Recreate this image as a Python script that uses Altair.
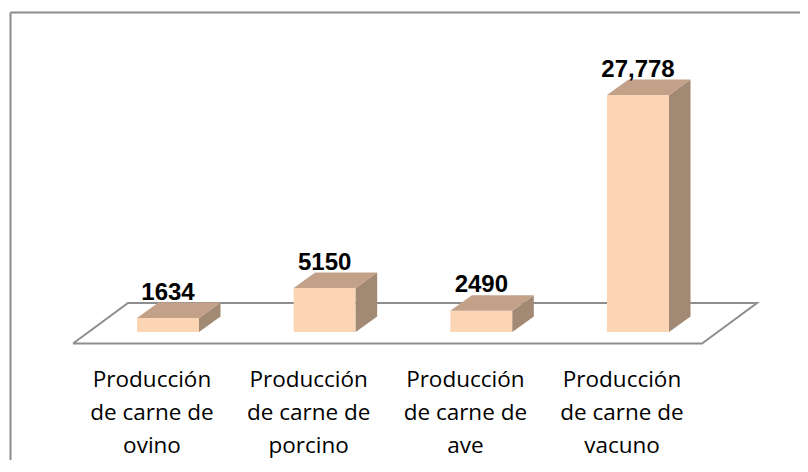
import altair as alt
import pandas as pd

# ---- data ----
categories = [
    "Producción\nde carne de\novino",
    "Producción\nde carne de\nporcino",
    "Producción\nde carne de\nave",
    "Producción\nde carne de\nvacuno",
]
values = [1634, 5150, 2490, 27778]
value_labels = ["1634", "5150", "2490", "27,778"]

# ---- style / geometry ----
FRONT = "#FCD5B5"
TOP = "#C3A188"
SIDE = "#A28973"
FLOOR = "#8E8E8E"
BORDER = "#8C8C8C"

W, H = 790, 448
PX_PER_X = 156.67                 # pixels per category step
PX_PER_Y = 237.0 / 27778.0        # pixels per value unit
BASE_PX, TOP_PX, LEFT_PX, FIRST_PX = 332, 12, 10, 168
X_MIN = -(FIRST_PX - LEFT_PX) / PX_PER_X
X_MAX = X_MIN + W / PX_PER_X
Y_MAX = (BASE_PX - TOP_PX) / PX_PER_Y
Y_MIN = -(TOP_PX + H - BASE_PX) / PX_PER_Y

HALF = 31 / PX_PER_X              # half width of the front face
DX = 21.5 / PX_PER_X              # depth offset (x)
DY = 15.5 / PX_PER_Y              # depth offset (y)
FLOOR_FRONT = -11.5 / PX_PER_Y
FLOOR_BACK = 29 / PX_PER_Y
FLOOR_LEFT = -95 / PX_PER_X
FLOOR_RIGHT = 64 / PX_PER_X
FLOOR_SHIFT = 55 / PX_PER_X
LABEL_Y = -54.7 / PX_PER_Y

n = len(values)
idx = list(range(n))

front_df = pd.DataFrame({
    "cat": categories,
    "x0": [i - HALF for i in idx],
    "x1": [i + HALF for i in idx],
    "y0": [0] * n,
    "y1": values,
})

top_rows, side_rows = [], []
for i, v, c in zip(idx, values, categories):
    top_rows.append({"cat": c, "y": v, "xl": i - HALF, "xr": i + HALF})
    top_rows.append({"cat": c, "y": v + DY, "xl": i - HALF + DX, "xr": i + HALF + DX})
    side_rows.append({"cat": c, "x": i + HALF, "y": 0, "y2": v})
    side_rows.append({"cat": c, "x": i + HALF + DX, "y": DY, "y2": v + DY})
top_df = pd.DataFrame(top_rows)
side_df = pd.DataFrame(side_rows)

fl = FLOOR_LEFT
fr = (n - 1) + FLOOR_RIGHT
floor_df = pd.DataFrame({
    "o": [0, 1, 2, 3, 4],
    "x": [fl, fr, fr + FLOOR_SHIFT, fl + FLOOR_SHIFT, fl],
    "y": [FLOOR_FRONT, FLOOR_FRONT, FLOOR_BACK, FLOOR_BACK, FLOOR_FRONT],
})

text_df = pd.DataFrame({
    "x": idx,
    "ytop": [v + DY for v in values],
    "label": value_labels,
    "cat": categories,
    "ylab": [LABEL_Y] * n,
})

xs = alt.Scale(domain=[X_MIN, X_MAX], nice=False, zero=False)
ys = alt.Scale(domain=[Y_MIN, Y_MAX], nice=False, zero=False)
xaxis = alt.Axis(orient="top", labels=False, ticks=False, grid=False,
                 domainColor=BORDER, domainWidth=2, title="")
yaxis = alt.Axis(orient="left", labels=False, ticks=False, grid=False,
                 domainColor=BORDER, domainWidth=2, title="")

floor = alt.Chart(floor_df).mark_line(color=FLOOR, strokeWidth=2).encode(
    x=alt.X("x:Q", scale=xs, axis=xaxis),
    y=alt.Y("y:Q", scale=ys, axis=yaxis),
    order="o:O",
)

front = alt.Chart(front_df).mark_rect(color=FRONT).encode(
    x=alt.X("x0:Q", scale=xs, axis=xaxis),
    x2="x1:Q",
    y=alt.Y("y0:Q", scale=ys, axis=yaxis),
    y2="y1:Q",
)

side = alt.Chart(side_df).mark_area(color=SIDE, orient="vertical", opacity=1).encode(
    x=alt.X("x:Q", scale=xs, axis=xaxis),
    y=alt.Y("y:Q", scale=ys, axis=yaxis, stack=None),
    y2="y2:Q",
    detail="cat:N",
)

top = alt.Chart(top_df).mark_area(color=TOP, orient="horizontal", opacity=1).encode(
    y=alt.Y("y:Q", scale=ys, axis=yaxis),
    x=alt.X("xl:Q", scale=xs, axis=xaxis, stack=None),
    x2="xr:Q",
    detail="cat:N",
)

vals = alt.Chart(text_df).mark_text(
    font="Liberation Sans", fontSize=24, fontWeight="bold", color="#000000",
    baseline="alphabetic", align="center", dy=-3,
).encode(
    x=alt.X("x:Q", scale=xs, axis=xaxis),
    y=alt.Y("ytop:Q", scale=ys, axis=yaxis),
    text="label:N",
)

cats = alt.Chart(text_df).mark_text(
    font="Open Sans", fontSize=22.5, color="#000000", baseline="alphabetic",
    align="center", dx=-16, lineBreak="\n", lineHeight=33.3,
).encode(
    x=alt.X("x:Q", scale=xs, axis=xaxis),
    y=alt.Y("ylab:Q", scale=ys, axis=yaxis),
    text="cat:N",
)

chart = alt.layer(floor, front, side, top, vals, cats).properties(
    width=W, height=H,
    autosize=alt.AutoSizeParams(type="none"),
    padding={"left": 2, "top": 4, "right": 0, "bottom": 0},
    background="#ffffff",
).configure_view(stroke=None)

chart.save("out.html", embed_options={"renderer": "svg", "actions": False})
